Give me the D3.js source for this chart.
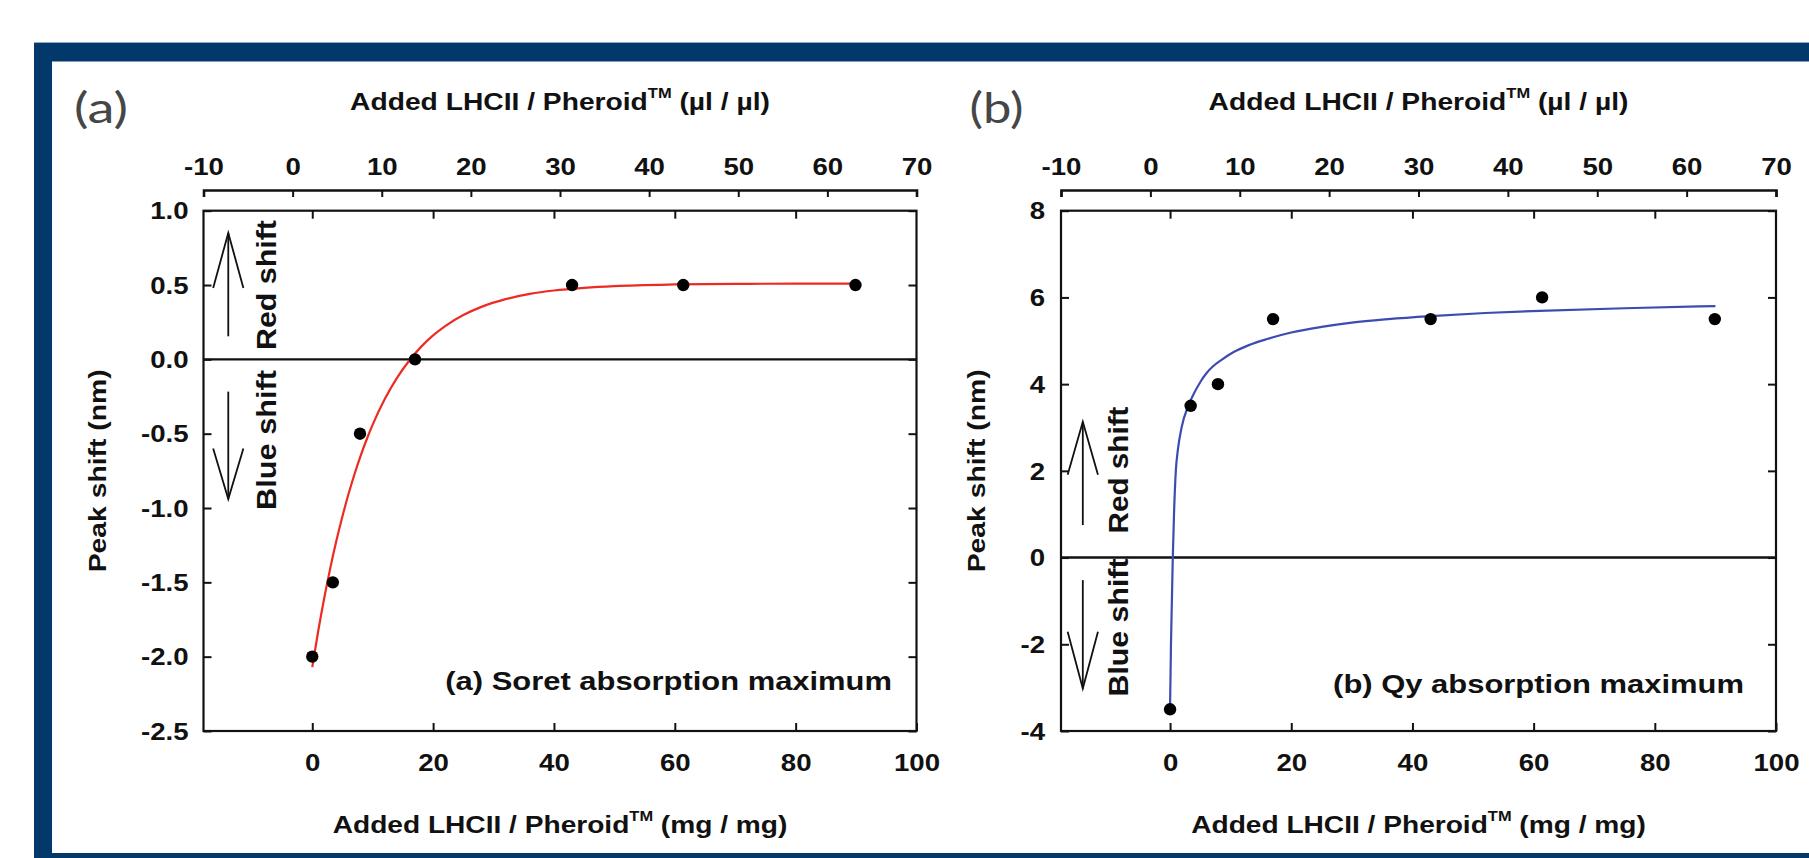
<!DOCTYPE html>
<html><head><meta charset="utf-8">
<script src="https://cdn.jsdelivr.net/npm/d3@7"></script>
<style>body{margin:0;background:#fff;overflow:hidden}svg{display:block}</style>
</head><body>
<svg id="chart" width="1809" height="858"></svg>
<script>
// ---------------- data ----------------
const addedMgMg = [0, 3.4, 7.9, 17, 43, 61.4, 89.9];
const soretShift = [-2.0, -1.5, -0.5, 0.0, 0.5, 0.5, 0.5];
const qyShift = [-3.5, 3.5, 4.0, 5.5, 5.5, 6.0, 5.5];

const soretFitX = [0, 1, 2, 3, 4, 5, 6, 7, 8, 9, 10, 12, 14, 16, 18, 20, 22, 25, 28, 32, 36, 40, 45, 50, 60, 70, 80, 90];
const soretFitY = [-2.07, -1.824, -1.602, -1.401, -1.219, -1.055, -0.906, -0.771, -0.649, -0.539, -0.439, -0.267, -0.126, -0.011, 0.084, 0.161, 0.224, 0.298, 0.353, 0.405, 0.44, 0.463, 0.481, 0.493, 0.504, 0.508, 0.509, 0.51];
const qyFitX = [0, 0.15, 0.3, 0.45, 0.65, 0.95, 1.3, 1.9, 3.0, 4.0, 5.0, 6.0, 7.0, 8.5, 10.5, 13, 16, 20, 25, 30, 36, 43, 52, 61, 75, 90];
const qyFitY = [-3.45, -2.0, -1.0, 0, 1.0, 2.0, 2.5, 3.0, 3.5, 3.8, 4.05, 4.25, 4.4, 4.56, 4.74, 4.9, 5.04, 5.19, 5.32, 5.42, 5.5, 5.57, 5.64, 5.69, 5.75, 5.8];

const bottomTicks = [0, 20, 40, 60, 80, 100];
const topTicks = [-10, 0, 10, 20, 30, 40, 50, 60, 70];
const soretYTicks = [1.0, 0.5, 0.0, -0.5, -1.0, -1.5, -2.0, -2.5];
const qyYTicks = [8, 6, 4, 2, 0, -2, -4];

const panelLetters = ["(a)", "(b)"];
const annotations = ["(a) Soret absorption maximum", "(b) Qy absorption maximum"];
const titleMain = "Added LHCII / Pheroid";
const titleSup = "TM";
const topUnit = " (\u00b5l / \u00b5l)";
const bottomUnit = " (mg / mg)";
const yTitle = "Peak shift (nm)";
const redLabel = "Red shift";
const blueLabel = "Blue shift";

// arrows in data units: [x, yStart, yTip, yArmBase]
const soretArrows = [[-13.9, 0.155, 0.85, 0.48], [-13.9, -0.217, -0.94, -0.6]];
const qyArrows = [[-14.4, 0.75, 3.13, 1.91], [-14.4, -0.52, -3.02, -1.71]];

// ---------------- layout ----------------
const svg = d3.select('#chart');
const FONT = "'Liberation Sans', Arial, Helvetica, sans-serif";
const SX = 1.2; // horizontal stretch of the figure's lettering
const frameColor = '#03386b';

// frame
svg.append('rect').attr('x', 34).attr('y', 42.5).attr('width', 1809 - 34).attr('height', 19).attr('fill', frameColor);
svg.append('rect').attr('x', 34).attr('y', 42.5).attr('width', 18).attr('height', 858 - 42.5).attr('fill', frameColor);
svg.append('rect').attr('x', 34).attr('y', 853).attr('width', 1809 - 34).attr('height', 5).attr('fill', frameColor);
svg.append('line').attr('x1', 34).attr('x2', 1809).attr('y1', 42.5).attr('y2', 42.5).attr('stroke', '#8fa9c6').attr('stroke-width', 1);

const panels = [
  { left: 203.5, right: 916.5, yDomain: [-2.5, 1.0], yTicks: soretYTicks, fmt: d => d.toFixed(1),
    ys: soretShift, fitX: soretFitX, fitY: soretFitY, color: '#ec2b22', arrows: soretArrows,
    letter: panelLetters[0], letterX: 74, ann: annotations[0], annRight: 892, annW: 447, annBase: 690,
    yTitleX: 106, yLabPad: 15, shiftX: 276, redC: 285, redL: 130, blueC: 440, blueL: 140 },
  { left: 1061, right: 1776, yDomain: [-4, 8], yTicks: qyYTicks, fmt: d => String(d),
    ys: qyShift, fitX: qyFitX, fitY: qyFitY, color: '#3c4cb0', arrows: qyArrows,
    letter: panelLetters[1], letterX: 969.5, ann: annotations[1], annRight: 1744, annW: 411, annBase: 693,
    yTitleX: 985, yLabPad: 16, shiftX: 1128, redC: 470, redL: 127, blueC: 627.5, blueL: 138 }
];
const plotTop = 210.7, plotBottom = 731, topAxisY = 190;

function fitWidth(textSel, target) {
  const w = textSel.node().getBBox().width;
  return target / w;
}

function stretchTicks(axisG, tx, ty, anchorDy) {
  axisG.selectAll('text').each(function () {
    const t = d3.select(this);
    t.attr('x', null).attr('y', null).attr('dy', anchorDy)
     .attr('transform', `translate(${tx},${ty}) scale(${SX},1)`);
  });
}

panels.forEach(p => {
  const g = svg.append('g');
  const x = d3.scaleLinear().domain([-18, 100]).range([p.left, p.right]);
  const xTop = d3.scaleLinear().domain([-10, 70]).range([p.left, p.right]);
  const y = d3.scaleLinear().domain(p.yDomain).range([plotBottom, plotTop]);

  // plot box
  g.append('rect').attr('x', p.left).attr('y', plotTop).attr('width', p.right - p.left).attr('height', plotBottom - plotTop)
    .attr('fill', 'none').attr('stroke', '#111').attr('stroke-width', 2.2);

  // zero line
  g.append('line').attr('x1', p.left).attr('x2', p.right).attr('y1', y(0)).attr('y2', y(0))
    .attr('stroke', '#111').attr('stroke-width', 2.4);

  const styleAxis = a => {
    a.attr('font-family', FONT).attr('font-size', 23).attr('font-weight', 'bold');
    a.selectAll('line').attr('stroke', '#111').attr('stroke-width', 2);
    a.selectAll('text').attr('fill', '#111');
  };

  // secondary top axis (µl/µl)
  const ta = g.append('g').attr('transform', `translate(0,${topAxisY})`)
    .call(d3.axisTop(xTop).tickValues(topTicks).tickSizeInner(-7).tickSizeOuter(-7).tickPadding(15).tickFormat(d => String(d)));
  styleAxis(ta);
  ta.select('.domain').attr('stroke', '#111').attr('stroke-width', 2.6).attr('fill', 'none');
  stretchTicks(ta, 0, -15, 0);

  // bottom axis (mg/mg), inward ticks
  const ba = g.append('g').attr('transform', `translate(0,${plotBottom})`)
    .call(d3.axisBottom(x).tickValues(bottomTicks).tickSizeInner(-8).tickSizeOuter(0).tickFormat(d => String(d)));
  styleAxis(ba);
  ba.select('.domain').remove();
  stretchTicks(ba, 0, 40, 0);

  // mirror ticks on top border
  const tm = g.append('g').attr('transform', `translate(0,${plotTop})`)
    .call(d3.axisTop(x).tickValues(bottomTicks.filter(d => d < 100)).tickSizeInner(-8).tickSizeOuter(0).tickFormat(''));
  styleAxis(tm); tm.select('.domain').remove();

  // left axis
  const la = g.append('g').attr('transform', `translate(${p.left},0)`)
    .call(d3.axisLeft(y).tickValues(p.yTicks).tickSizeInner(-8).tickSizeOuter(0).tickFormat(p.fmt));
  styleAxis(la); la.select('.domain').remove();
  stretchTicks(la, -p.yLabPad, 0, '0.36em');

  // right mirror ticks
  const ra = g.append('g').attr('transform', `translate(${p.right},0)`)
    .call(d3.axisRight(y).tickValues(p.yTicks).tickSizeInner(-8).tickSizeOuter(0).tickFormat(''));
  styleAxis(ra); ra.select('.domain').remove();

  // fitted curve
  const fit = p.fitX.map((d, i) => [d, p.fitY[i]]);
  g.append('path').datum(fit)
    .attr('d', d3.line().x(d => x(d[0])).y(d => y(d[1])).curve(d3.curveMonotoneX))
    .attr('fill', 'none').attr('stroke', p.color).attr('stroke-width', 2.2);

  // data points
  g.selectAll('circle.pt').data(addedMgMg.map((d, i) => [d, p.ys[i]])).join('circle')
    .attr('class', 'pt').attr('cx', d => x(d[0])).attr('cy', d => y(d[1])).attr('r', 6.2).attr('fill', '#000');

  // arrows
  p.arrows.forEach(a => {
    const ax = x(a[0]);
    const half = x(a[0] + 2.5) - ax;
    g.append('line').attr('x1', ax).attr('x2', ax).attr('y1', y(a[1])).attr('y2', y(a[2]))
      .attr('stroke', '#111').attr('stroke-width', 1.8);
    g.append('path').attr('d', `M${ax - half},${y(a[3])} L${ax},${y(a[2])} L${ax + half},${y(a[3])}`)
      .attr('fill', 'none').attr('stroke', '#111').attr('stroke-width', 1.8);
  });

  // Red / Blue shift labels (rotated)
  [[redLabel, p.redC, p.redL], [blueLabel, p.blueC, p.blueL]].forEach(([txt, cy, len]) => {
    const t = g.append('text').text(txt).attr('font-family', FONT).attr('font-weight', 'bold')
      .attr('font-size', 27).attr('text-anchor', 'middle').attr('fill', '#111');
    const s = fitWidth(t, len);
    t.attr('transform', `translate(${p.shiftX},${cy}) rotate(-90) scale(${s},1)`);
  });

  // y title
  const yt = g.append('text').text(yTitle).attr('font-family', FONT).attr('font-weight', 'bold')
    .attr('font-size', 24).attr('text-anchor', 'middle').attr('fill', '#111');
  const ysc = fitWidth(yt, 203);
  yt.attr('transform', `translate(${p.yTitleX},${(plotTop + plotBottom) / 2}) rotate(-90) scale(${ysc},1)`);

  // horizontal titles
  const cx = (p.left + p.right) / 2;
  [[topUnit, 110, 420], [bottomUnit, 833, 455]].forEach(([unit, base, w]) => {
    const t = g.append('text').attr('font-family', FONT).attr('font-weight', 'bold')
      .attr('font-size', 24).attr('text-anchor', 'middle').attr('fill', '#111');
    t.append('tspan').text(titleMain);
    t.append('tspan').attr('font-size', 14).attr('dy', -12).text(titleSup);
    t.append('tspan').attr('dy', 12).text(unit);
    const s = fitWidth(t, w);
    t.attr('transform', `translate(${cx},${base}) scale(${s},1)`);
  });

  // annotation
  const an = g.append('text').text(p.ann).attr('font-family', FONT).attr('font-weight', 'bold')
    .attr('font-size', 25).attr('text-anchor', 'end').attr('fill', '#111');
  const as = fitWidth(an, p.annW);
  an.attr('transform', `translate(${p.annRight},${p.annBase}) scale(${as},1)`);

  // panel letter
  const pl = svg.append('text').text(p.letter).attr('font-family', "Lato, 'Open Sans', sans-serif")
    .attr('font-size', 42).attr('fill', '#464646');
  const ps = fitWidth(pl, 54);
  pl.attr('transform', `translate(${p.letterX},123) scale(${ps},1)`);
});
</script>
</body></html>
